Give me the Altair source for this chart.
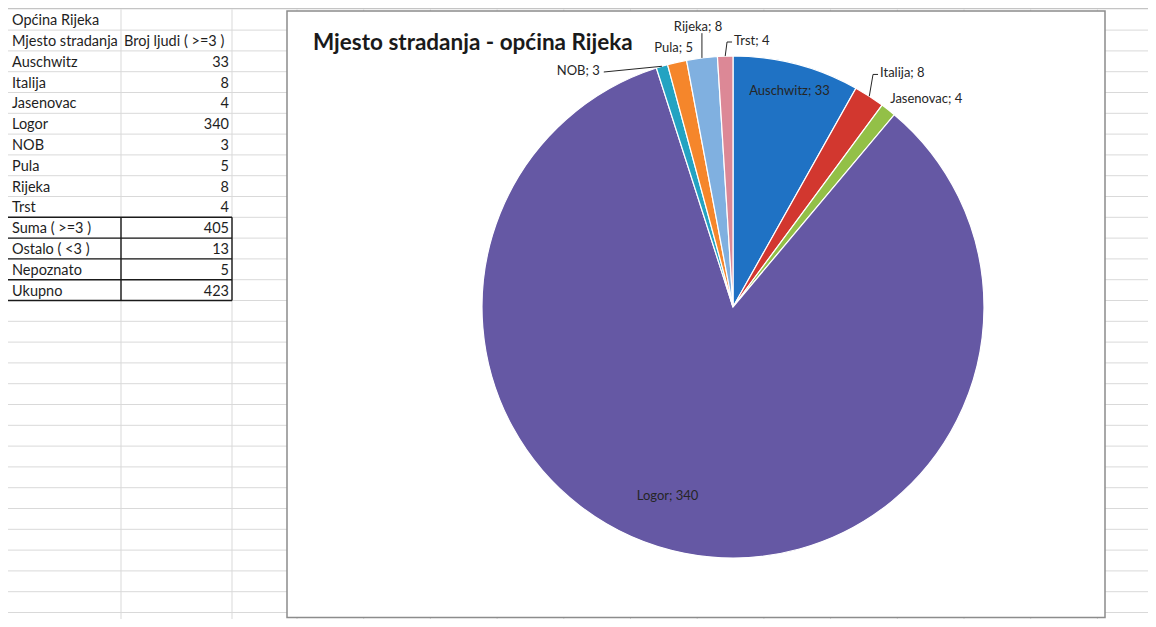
import math
import altair as alt
import pandas as pd

# ---------------- data ----------------
sheet_title = "Općina Rijeka"
col_headers = ["Mjesto stradanja", "Broj ljudi ( >=3 )"]
places = ["Auschwitz", "Italija", "Jasenovac", "Logor", "NOB", "Pula", "Rijeka", "Trst"]
counts = [33, 8, 4, 340, 3, 5, 8, 4]
summary_labels = ["Suma ( >=3 )", "Ostalo ( <3 )", "Nepoznato", "Ukupno"]
summary_values = [405, 13, 5, 423]
chart_title = "Mjesto stradanja - općina Rijeka"
colors = ["#1f72c4", "#d2372f", "#93c047", "#6558a4", "#23a3c2", "#f5862b", "#80b0e0", "#dc8896"]

# ---------------- layout ----------------
W, H, OFF = 1140, 611, 8
ROW0, ROWH, NROWS = 9.3, 20.8, 30
COL_A, COL_B, COL_C = 7, 121, 232
COL_D0, COLW = 297, 66.7
BOX = (287, 1105, 11, 617.5)
CX, CY, R = 733, 307, 251
FONT = "Lato"
# label placement: radius (px), angle shift (deg), align, leader
label_layout = {
    "Auschwitz": (223, 0, "center", False),
    "Italija": (276, -0.7, "left", True),
    "Jasenovac": (261, -1.2, "left", False),
    "Logor": (200, 8, "center", False),
    "NOB": (271, -13, "right", True),
    "Pula": (266, 0, "center", False),
    "Rijeka": (282, 0, "center", True),
    "Trst": (266, 2, "left", True),
}

xs = alt.Scale(domain=[OFF, OFF + W], range=[0, W], nice=False, zero=False)
ys = alt.Scale(domain=[OFF, OFF + H], range=[0, H], nice=False, zero=False)


def X(f):
    return alt.X(f, type="quantitative", scale=xs, axis=None)


def Y(f):
    return alt.Y(f, type="quantitative", scale=ys, axis=None)


def row_mid(i):
    return ROW0 + ROWH * (i + 0.5) + 1.5


# ---------------- spreadsheet grid ----------------
hlines = pd.DataFrame({"x": 0, "x2": 1160, "y": [ROW0 + ROWH * k for k in range(1, NROWS)]})
top_line = pd.DataFrame({"x": [0], "x2": [1160], "y": [ROW0 - 1]})
vx = [COL_A, COL_B, COL_C] + [COL_D0 + COLW * k for k in range(13)]
vlines = pd.DataFrame({"x": vx, "y": ROW0, "y2": 640})

grid_h = alt.Chart(hlines).mark_rule(color="#d9d9d9", strokeWidth=1).encode(
    x=X("x"), x2="x2", y=Y("y"))
grid_top = alt.Chart(top_line).mark_rule(color="#c4c4c4", strokeWidth=2).encode(
    x=X("x"), x2="x2", y=Y("y"))
grid_v = alt.Chart(vlines).mark_rule(color="#d9d9d9", strokeWidth=1).encode(
    x=X("x"), y=Y("y"), y2="y2")

# table cells
colA = [sheet_title, col_headers[0]] + places + summary_labels
cellsA = pd.DataFrame({"t": colA, "x": COL_A + 5, "y": [row_mid(i) for i in range(len(colA))]})
cellsB_head = pd.DataFrame({"t": [col_headers[1]], "x": [COL_B + 3], "y": [row_mid(1)]})
valsB = counts + summary_values
cellsB = pd.DataFrame({"t": [str(v) for v in valsB], "x": COL_C - 3,
                       "y": [row_mid(i + 2) for i in range(len(valsB))]})

txt_style = dict(font=FONT, fontSize=14.5, color="#1e1e1e", baseline="middle")
tA = alt.Chart(cellsA).mark_text(align="left", **txt_style).encode(x=X("x"), y=Y("y"), text="t:N")
tBh = alt.Chart(cellsB_head).mark_text(align="left", **txt_style).encode(x=X("x"), y=Y("y"), text="t:N")
tB = alt.Chart(cellsB).mark_text(align="right", **txt_style).encode(x=X("x"), y=Y("y"), text="t:N")

# thick borders around summary block
k0 = 2 + len(places)
bh = pd.DataFrame({"x": COL_A, "x2": COL_C, "y": [ROW0 + ROWH * k for k in range(k0, k0 + 5)]})
bv = pd.DataFrame({"x": [COL_A, COL_B, COL_C], "y": ROW0 + ROWH * k0, "y2": ROW0 + ROWH * (k0 + 4)})
border_h = alt.Chart(bh).mark_rule(color="#1a1a1a", strokeWidth=1.4).encode(x=X("x"), x2="x2", y=Y("y"))
border_v = alt.Chart(bv).mark_rule(color="#1a1a1a", strokeWidth=1.4).encode(x=X("x"), y=Y("y"), y2="y2")

# ---------------- chart object ----------------
box = pd.DataFrame({"x": [BOX[0]], "x2": [BOX[1]], "y": [BOX[2]], "y2": [BOX[3]]})
box_mark = alt.Chart(box).mark_rect(fill="white", stroke="#8c8c8c", strokeWidth=1.5).encode(
    x=X("x"), x2="x2", y=Y("y"), y2="y2")

title_df = pd.DataFrame({"t": [chart_title], "x": [313], "y": [43]})
title_mark = alt.Chart(title_df).mark_text(
    align="left", baseline="middle", font=FONT, fontSize=22.5, fontWeight="bold", color="#1a1a1a"
).encode(x=X("x"), y=Y("y"), text="t:N")

pie_df = pd.DataFrame({"place": places, "count": counts, "idx": range(len(places))})
pie = alt.Chart(pie_df).mark_arc(radius=R, stroke="white", strokeWidth=1.2).encode(
    x=alt.value(CX - OFF), y=alt.value(CY - OFF),
    theta=alt.Theta("count:Q", stack=True),
    color=alt.Color("place:N", scale=alt.Scale(domain=places, range=colors), legend=None),
    order=alt.Order("idx:Q"),
)

# labels
total = sum(counts)
rows, segs = [], []
cum = 0
for p, c in zip(places, counts):
    mid = (cum + c / 2) / total * 360
    cum += c
    r, shift, align, leader = label_layout[p]
    a = math.radians(mid + shift)
    lx, ly = CX + r * math.sin(a), CY - r * math.cos(a)
    rows.append({"t": f"{p}; {c}", "x": lx, "y": ly, "align": align})
    if leader:
        am = math.radians(mid)
        ex, ey = CX + R * math.sin(am), CY - R * math.cos(am)
        if align == "left":
            elx, ely = lx - 7, ly + 1
            segs.append({"x": ex, "y": ey, "x2": elx, "y2": ely})
            segs.append({"x": elx, "y": ely, "x2": lx - 2, "y2": ely})
        elif align == "right":
            segs.append({"x": ex, "y": ey, "x2": lx + 4, "y2": ly + 1})
        else:
            segs.append({"x": ex, "y": ey, "x2": ex, "y2": ly + 6})
lab = pd.DataFrame(rows)
seg = pd.DataFrame(segs)

leaders = alt.Chart(seg).mark_rule(color="#262626", strokeWidth=1).encode(
    x=X("x"), y=Y("y"), x2="x2", y2="y2")
lab_layers = []
for al in ["left", "center", "right"]:
    sub = lab[lab["align"] == al]
    lab_layers.append(alt.Chart(sub).mark_text(
        align=al, baseline="middle", font=FONT, fontSize=13, color="#262626"
    ).encode(x=X("x"), y=Y("y"), text="t:N"))

chart = alt.layer(
    grid_h, grid_top, grid_v, tA, tBh, tB, border_h, border_v,
    box_mark, title_mark, pie, leaders, *lab_layers
).properties(
    width=W, height=H, autosize=alt.AutoSizeParams(type="none"), padding=0,
    background="white"
).configure_view(stroke=None)

chart.save("out.html", embed_options={"renderer": "svg", "actions": False})
